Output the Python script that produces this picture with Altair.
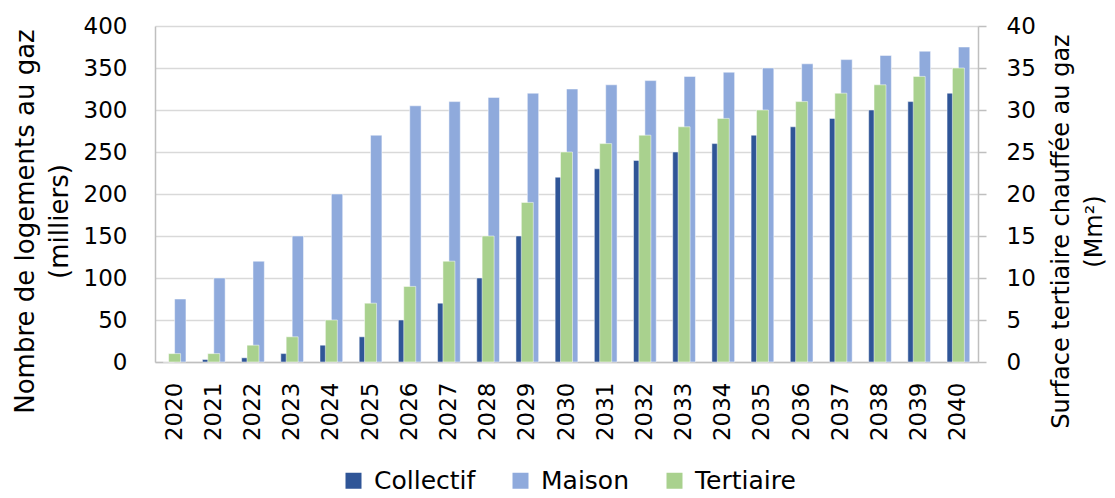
import altair as alt
import pandas as pd

years = ["2020", "2021", "2022", "2023", "2024", "2025", "2026", "2027", "2028", "2029", "2030",
         "2031", "2032", "2033", "2034", "2035", "2036", "2037", "2038", "2039", "2040"]
collectif = [0, 3, 5, 10, 20, 30, 50, 70, 100, 150, 220, 230, 240, 250, 260, 270, 280, 290, 300, 310, 320]
maison = [75, 100, 120, 150, 200, 270, 305, 310, 315, 320, 325, 330, 335, 340, 345, 350, 355, 360, 365, 370, 375]
tertiaire = [1, 1, 2, 3, 5, 7, 9, 12, 15, 19, 25, 26, 27, 28, 29, 30, 31, 32, 33, 34, 35]

series = ["Collectif", "Maison", "Tertiaire"]
colors = ["#2F5597", "#8FAADC", "#A9D18E"]
left_ticks = [0, 50, 100, 150, 200, 250, 300, 350, 400]
right_ticks = [0, 5, 10, 15, 20, 25, 30, 35, 40]

FONT = "DejaVu Sans"

prim = pd.DataFrame(
    [{"annee": y, "serie": "Collectif", "valeur": v} for y, v in zip(years, collectif)]
    + [{"annee": y, "serie": "Maison", "valeur": v} for y, v in zip(years, maison)]
)
sec = pd.DataFrame([{"annee": y, "serie": "Tertiaire", "valeur": v} for y, v in zip(years, tertiaire)])

xenc = alt.X(
    "annee:N",
    sort=years,
    title=None,
    scale=alt.Scale(paddingInner=0.42, paddingOuter=0.21),
    axis=alt.Axis(labelAngle=270, ticks=False, labelPadding=20, labelFontSize=23,
                  domainColor="#BFBFBF", domainWidth=1.5, labelColor="#000000"),
)
color = alt.Color(
    "serie:N",
    scale=alt.Scale(domain=series, range=colors),
    legend=alt.Legend(
        title=None, orient="none", direction="horizontal", legendX=186, legendY=442,
        symbolType="square", symbolSize=256, symbolStrokeWidth=0, labelFontSize=25,
        labelColor="#000000", columnPadding=32, labelOffset=8,
    ),
)

bars = alt.Chart(prim).mark_bar(stroke="white", strokeWidth=0.5).encode(
    x=xenc,
    xOffset=alt.XOffset("serie:N", sort=["Collectif", "Maison"]),
    y=alt.Y(
        "valeur:Q",
        scale=alt.Scale(domain=[0, 400]),
        axis=alt.Axis(
            orient="left", values=left_ticks, ticks=False, labelPadding=28, labelFontSize=23,
            labelColor="#000000", grid=True, gridColor="#D9D9D9", gridWidth=1.5,
            domainColor="#BFBFBF", domainWidth=1.5,
            title=["Nombre de logements au gaz", "(milliers)"], titleFontSize=26,
            titleFontWeight="normal", titlePadding=11, titleLineHeight=34, titleColor="#000000",
            titleY=195,
        ),
    ),
    color=color,
)

green = alt.Chart(sec).mark_bar(width=12, stroke="white", strokeWidth=0.5).encode(
    x=xenc,
    y=alt.Y(
        "valeur:Q",
        scale=alt.Scale(domain=[0, 40]),
        axis=alt.Axis(
            orient="right", values=right_ticks, ticks=True, tickSize=8, tickColor="#BFBFBF",
            tickWidth=1.5, labelPadding=20, labelFontSize=23, labelColor="#000000", grid=False,
            domainColor="#BFBFBF", domainWidth=1.5,
            title=["Surface tertiaire chauffée au gaz", "(Mm²)"], titleFontSize=24,
            titleFontWeight="normal", titlePadding=5, titleLineHeight=33, titleAngle=270,
            titleColor="#000000", titleY=205,
        ),
    ),
    color=color,
)

chart = (
    alt.layer(bars, green)
    .resolve_scale(y="independent")
    .properties(
        width=823, height=336,
        autosize=alt.AutoSizeParams(type="none"),
        padding={"left": 147, "top": 18, "right": 129, "bottom": 128},
    )
    .configure(font=FONT)
    .configure_view(stroke=None)
)

chart.save("out.html", embed_options={"renderer": "svg", "actions": False})
